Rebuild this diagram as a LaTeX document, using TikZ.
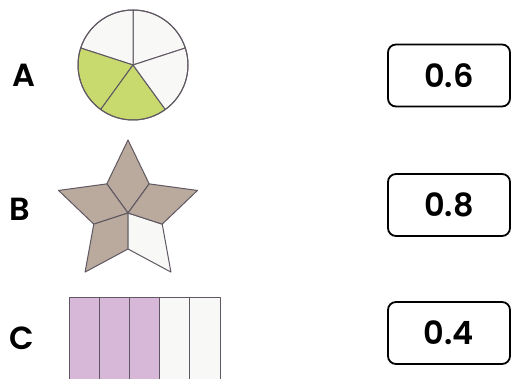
\documentclass[tikz,border=0pt]{standalone}
\usepackage{fontspec}
\setmainfont{Poppins}[BoldFont={Poppins SemiBold}]
\definecolor{pgreen}{RGB}{200,217,110}
\definecolor{ptaupe}{RGB}{186,170,157}
\definecolor{ppink}{RGB}{216,184,216}
\definecolor{pwhite}{RGB}{248,248,246}
\definecolor{pline}{RGB}{95,88,98}
\tikzset{
  lbl/.style={font=\fontsize{32}{32}\selectfont\bfseries, inner sep=0pt},
  ansbox/.style={draw=black, line width=1.8pt, rounded corners=8pt, minimum width=122pt, minimum height=62pt, font=\fontsize{32}{32}\selectfont\bfseries, inner sep=0pt},
  piece/.style={draw=pline, line width=1pt, line join=round}
}
\begin{document}
\begin{tikzpicture}[x=1pt,y=1pt]
\clip (0,0) rectangle (511,378);
\fill[white] (0,0) rectangle (511,378);
% letters
\node[lbl] (A) at (24,303) {A};
\node[lbl] (B) at (20,169) {B};
\node[lbl] (C) at (22,40) {C};
% answer boxes
\node[ansbox] (b1) at (449,302.5) {0.6};
\node[ansbox] (b2) at (449,173) {0.8};
\node[ansbox] (b3) at (449,45) {0.4};
% circle
\begin{scope}[shift={(133,313)}]
  \foreach \a/\c in {18/pwhite, 90/pwhite, 162/pgreen, 234/pgreen, 306/pwhite}{
    \filldraw[piece, fill=\c] (0,0) -- (\a:55) arc[start angle=\a, delta angle=72, radius=55] -- cycle;
  }
  \draw[piece] (0,0) circle[radius=55];
\end{scope}
% star
\begin{scope}[shift={(128,165)}]
  \foreach \a/\c in {90/ptaupe, 162/ptaupe, 234/ptaupe, 306/pwhite, 18/ptaupe}{
    \filldraw[piece, fill=\c] (0,0) -- (\a-36:36) -- (\a:73) -- (\a+36:36) -- cycle;
  }
\end{scope}
% bar
\foreach \i/\c in {0/ppink,1/ppink,2/ppink,3/pwhite,4/pwhite}{
  \filldraw[piece, fill=\c] (69+30.2*\i,-5) rectangle (69+30.2*\i+30.2,81);
}
\end{tikzpicture}
\end{document}
